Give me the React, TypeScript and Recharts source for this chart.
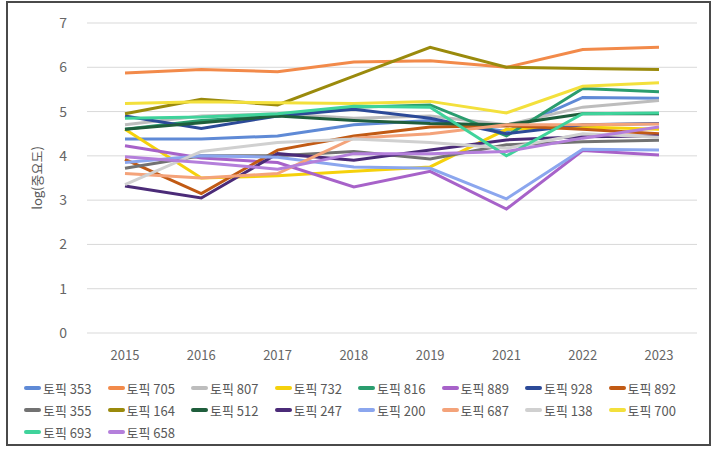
import { CartesianGrid, Line, LineChart, XAxis, YAxis } from 'recharts';

const YEARS = ['2015', '2016', '2017', '2018', '2019', '2021', '2022', '2023'];

const T353 = [4.38, 4.38, 4.45, 4.7, 4.8, 4.55, 5.32, 5.3];
const T705 = [5.87, 5.95, 5.9, 6.12, 6.15, 6.0, 6.4, 6.45];
const T807 = [4.7, 4.9, 4.95, 4.85, 4.9, 4.7, 5.1, 5.25];
const T732 = [4.6, 3.5, 3.55, 3.65, 3.75, 4.6, 4.65, 4.6];
const T816 = [4.6, 4.8, 4.9, 5.1, 5.15, 4.45, 5.52, 5.45];
const T889 = [4.23, 3.95, 3.85, 3.3, 3.65, 2.8, 4.12, 4.02];
const T928 = [4.9, 4.62, 4.9, 5.05, 4.85, 4.5, 4.7, 4.73];
const T892 = [3.92, 3.15, 4.13, 4.45, 4.65, 4.68, 4.6, 4.5];
const T355 = [3.72, 4.0, 4.0, 4.1, 3.93, 4.25, 4.32, 4.35];
const T164 = [4.95, 5.28, 5.15, 5.8, 6.45, 6.0, 5.97, 5.95];
const T512 = [4.6, 4.75, 4.9, 4.8, 4.73, 4.7, 4.95, 4.95];
const T247 = [3.32, 3.05, 4.05, 3.9, 4.13, 4.36, 4.43, 4.45];
const T200 = [3.85, 4.0, 3.97, 3.75, 3.72, 3.03, 4.15, 4.13];
const T687 = [3.6, 3.5, 3.6, 4.4, 4.5, 4.7, 4.7, 4.72];
const T138 = [3.35, 4.1, 4.3, 4.38, 4.3, 4.17, 4.5, 4.42];
const T700 = [5.18, 5.22, 5.2, 5.18, 5.23, 4.97, 5.57, 5.65];
const T693 = [4.85, 4.88, 4.95, 5.12, 5.1, 4.0, 4.95, 4.97];
const T658 = [3.98, 3.85, 3.7, 4.05, 4.05, 4.1, 4.4, 4.65];

const SERIES = [
  { key: '토픽353', values: T353, color: '#5f8ad6' },
  { key: '토픽705', values: T705, color: '#f28a4a' },
  { key: '토픽807', values: T807, color: '#bdbdbd' },
  { key: '토픽732', values: T732, color: '#f5d10c' },
  { key: '토픽816', values: T816, color: '#2a9d6e' },
  { key: '토픽889', values: T889, color: '#a762c9' },
  { key: '토픽928', values: T928, color: '#2c4a98' },
  { key: '토픽892', values: T892, color: '#c15a14' },
  { key: '토픽355', values: T355, color: '#727272' },
  { key: '토픽164', values: T164, color: '#9a8a0c' },
  { key: '토픽512', values: T512, color: '#1f5e3c' },
  { key: '토픽247', values: T247, color: '#4b2b78' },
  { key: '토픽200', values: T200, color: '#8ba6ee' },
  { key: '토픽687', values: T687, color: '#f4a37a' },
  { key: '토픽138', values: T138, color: '#d0d0d0' },
  { key: '토픽700', values: T700, color: '#f3e03c' },
  { key: '토픽693', values: T693, color: '#3fd39b' },
  { key: '토픽658', values: T658, color: '#b47fdb' },
];

const data = YEARS.map((year, i) => {
  const row: Record<string, string | number> = { year };
  for (const s of SERIES) row[s.key] = s.values[i];
  return row;
});

const FONT = '"Noto Sans CJK KR", "Noto Sans", sans-serif';

function ChartLegend() {
  return (
    <div
      style={{
        position: 'absolute',
        left: 24,
        top: 377,
        width: 690,
        display: 'flex',
        flexWrap: 'wrap',
        fontFamily: FONT,
      }}
    >
      {SERIES.map((s) => (
        <div
          key={s.key}
          style={{ width: 83.5, height: 22, display: 'flex', alignItems: 'center', fontSize: 13, color: '#595959' }}
        >
          <span style={{ width: 17, height: 4, background: s.color, borderRadius: 2, marginRight: 2 }} />
          <span>{s.key.replace('토픽', '토픽 ')}</span>
        </div>
      ))}
    </div>
  );
}

export default function App() {
  return (
    <div style={{ position: 'absolute', left: 0, top: 0, width: 726, height: 453, background: '#fff' }}>
      <div
        style={{
          position: 'absolute',
          left: 6,
          top: 1,
          width: 701,
          height: 441,
          border: '2px solid #4a4a4a',
        }}
      />
      <LineChart
        width={726}
        height={453}
        data={data}
        margin={{ top: 23, right: 29, bottom: 90, left: 0 }}
        style={{ position: 'absolute', left: 0, top: 0, fontFamily: FONT }}
      >
        <CartesianGrid vertical={false} stroke="#d9d9d9" />
        <XAxis
          dataKey="year"
          height={30}
          axisLine={false}
          tickLine={false}
          tickMargin={12}
          padding={{ left: 38, right: 38 }}
          tick={{ fontSize: 13, fill: '#666' }}
        />
        <YAxis
          width={87}
          domain={[0, 7]}
          ticks={[0, 1, 2, 3, 4, 5, 6, 7]}
          axisLine={false}
          tickLine={false}
          tickMargin={14}
          tick={{ fontSize: 14, fill: '#666' }}
          label={{
            value: 'log(중요도)',
            angle: -90,
            position: 'insideLeft',
            offset: 37,
            textAnchor: 'middle',
            style: { fontSize: 13, fill: '#595959', textAnchor: 'middle' },
          }}
        />
        {SERIES.map((s) => (
          <Line
            key={s.key}
            type="linear"
            dataKey={s.key}
            stroke={s.color}
            strokeWidth={3}
            dot={false}
            activeDot={false}
            isAnimationActive={false}
          />
        ))}
      </LineChart>
      <ChartLegend />
    </div>
  );
}
